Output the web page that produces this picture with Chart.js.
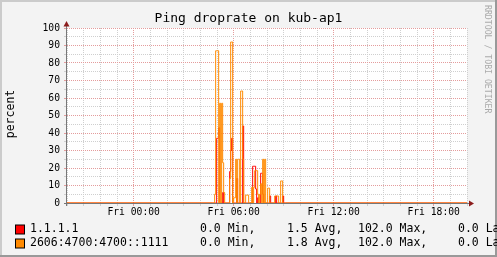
<!DOCTYPE html>
<html>
<head>
<meta charset="utf-8">
<script src="https://cdn.jsdelivr.net/npm/chart.js@4/dist/chart.umd.min.js"></script>
<style>
  html, body { margin: 0; padding: 0; background: #f3f3f3; }
  canvas { display: block; }
</style>
</head>
<body>
<canvas id="pingChart" width="497" height="257"></canvas>
<script>
// samples are one per graph column (3.6 min), starting Fri 04:44
const sampleStart = 4.74;
const sampleStep = 0.06;

const droprateV4 = [
  0, 0, 0, 0, 0, 37, 37, 43, 0, 0,
  0, 6, 0, 0, 0, 0, 0, 0, 18, 30,
  37, 0, 0, 0, 0, 14, 0, 0, 0, 0,
  0, 44, 0, 0, 0, 0, 0, 0, 0, 0,
  0, 21, 21, 21, 8, 0, 3, 0, 0, 17,
  17, 5, 0, 0, 0, 0, 0, 0, 4, 0,
  0, 0, 0, 0, 4, 0, 0, 0, 0, 0,
  0, 4, 0, 0
];

const droprateV6 = [
  0, 0, 0, 5, 87, 87, 87, 0, 57, 0,
  57, 23, 6, 0, 0, 0, 0, 0, 14, 92,
  92, 0, 3, 3, 25, 0, 25, 25, 0, 64,
  64, 25, 0, 0, 4.5, 4.5, 4.5, 0, 0, 0,
  9, 0, 9, 18.5, 18.5, 18.5, 5, 0, 5, 11,
  0, 25, 0, 25, 0, 0, 8.5, 8.5, 0, 0,
  0, 0, 0, 4, 4, 4, 4, 0, 0, 12.6,
  12.6, 0, 0, 0
];

const hourTicks = [0, 6, 12, 18];
const hourLabels = ["Fri 00:00", "Fri 06:00", "Fri 12:00", "Fri 18:00"];
const percentTicks = [0, 10, 20, 30, 40, 50, 60, 70, 80, 90, 100];

const legendRows = [
  { name: "1.1.1.1", color: "#ff0000", min: "0.0", avg: "1.5", max: "102.0", last: "0.0" },
  { name: "2606:4700:4700::1111", color: "#ff8a00", min: "0.0", avg: "1.8", max: "102.0", last: "0.0" }
];

const MONO = "'DejaVu Sans Mono', monospace";
const MAJOR = "#e49c9c";
const MINOR = "#cfcfcf";

function toPoints(values) {
  const pts = [{ x: -4, y: 0 }];
  values.forEach((v, i) => pts.push({ x: sampleStart + i * sampleStep, y: v }));
  pts.push({ x: 20, y: 0 });
  return pts;
}

const rrdFrame = {
  id: "rrdFrame",
  beforeDraw(chart) {
    const { ctx, chartArea: a, width: W, height: H } = chart;
    ctx.save();
    ctx.fillStyle = "#f3f3f3";
    ctx.fillRect(0, 0, W, H);
    ctx.fillStyle = "#cbcbcb";
    ctx.fillRect(0, 0, W, 2);
    ctx.fillRect(0, 0, 2, H);
    ctx.fillStyle = "#999999";
    ctx.fillRect(0, H - 2, W, 2);
    ctx.fillRect(W - 2, 0, 2, H);
    ctx.fillStyle = "#ffffff";
    ctx.fillRect(a.left, a.top, a.right - a.left, a.bottom - a.top);
    ctx.restore();
  },
  beforeDatasetsDraw(chart) {
    const { ctx, chartArea: a } = chart;
    ctx.save();
    ctx.strokeStyle = "#777777";
    ctx.lineWidth = 1;
    ctx.beginPath();
    ctx.moveTo(a.left - 0.5, a.bottom + 3);
    ctx.lineTo(a.left - 0.5, a.top - 3);
    ctx.moveTo(a.left - 3, a.bottom + 0.5);
    ctx.lineTo(a.right + 3, a.bottom + 0.5);
    ctx.stroke();
    // arrows
    ctx.fillStyle = "#8c1c1c";
    ctx.beginPath();
    ctx.moveTo(a.left - 3.5, a.top - 1.5);
    ctx.lineTo(a.left + 2.5, a.top - 1.5);
    ctx.lineTo(a.left - 0.5, a.top - 7);
    ctx.closePath();
    ctx.fill();
    ctx.beginPath();
    ctx.moveTo(a.right + 2, a.bottom - 2.5);
    ctx.lineTo(a.right + 2, a.bottom + 3.5);
    ctx.lineTo(a.right + 7, a.bottom + 0.5);
    ctx.closePath();
    ctx.fill();
    ctx.restore();
  },
  afterDraw(chart) {
    const { ctx, width: W } = chart;
    ctx.save();
    ctx.fillStyle = "#000000";
    ctx.textBaseline = "middle";

    ctx.font = `13px ${MONO}`;
    ctx.textAlign = "center";
    ctx.fillText("Ping droprate on kub-ap1", W / 2, 19);

    ctx.font = `11.5px ${MONO}`;
    ctx.save();
    ctx.translate(11, 114);
    ctx.rotate(-Math.PI / 2);
    ctx.fillText("percent", 0, 0);
    ctx.restore();

    ctx.save();
    ctx.fillStyle = "#aaaaaa";
    ctx.font = `8.2px ${MONO}`;
    ctx.textAlign = "left";
    ctx.translate(487.5, 5);
    ctx.rotate(Math.PI / 2);
    ctx.fillText("RRDTOOL / TOBI OETIKER", 0, 0);
    ctx.restore();

    ctx.textAlign = "left";
    legendRows.forEach((row, i) => {
      const y = 229.5 + i * 14;
      ctx.fillStyle = row.color;
      ctx.fillRect(15.5, y - 4.5, 9, 9);
      ctx.strokeStyle = "#000000";
      ctx.lineWidth = 1;
      ctx.strokeRect(15.5, y - 4.5, 9, 9);
      ctx.fillStyle = "#000000";
      ctx.fillText(row.name, 30, y);
      ctx.fillText(`${row.min} Min,`, 200, y);
      ctx.fillText(`${row.avg} Avg,`, 287, y);
      ctx.fillText(`${row.max} Max,`, 358, y);
      ctx.fillText(`${row.last} Last`, 458, y);
    });
    ctx.restore();
  }
};

const ctx = document.getElementById("pingChart");

new Chart(ctx, {
  type: "line",
  data: {
    datasets: [
      {
        label: legendRows[1].name,
        data: toPoints(droprateV6),
        borderColor: legendRows[1].color,
        order: 0
      },
      {
        label: legendRows[0].name,
        data: toPoints(droprateV4),
        borderColor: legendRows[0].color,
        order: 1
      }
    ]
  },
  options: {
    responsive: false,
    animation: false,
    events: [],
    layout: { padding: { left: 0, right: 30, top: 28, bottom: 0 } },
    elements: {
      line: { borderWidth: 1, stepped: "after", tension: 0 },
      point: { radius: 0 }
    },
    plugins: {
      legend: { display: false },
      tooltip: { enabled: false }
    },
    scales: {
      x: {
        type: "linear",
        min: -4,
        max: 20,
        afterFit: (s) => { s.height = 54; },
        ticks: {
          stepSize: 1,
          autoSkip: false,
          maxRotation: 0,
          padding: 1,
          color: "#000000",
          font: { family: MONO, size: 9.7 },
          callback: (v) => {
            const i = hourTicks.indexOf(v);
            return i >= 0 ? hourLabels[i] : "";
          }
        },
        grid: {
          color: (c) => (hourTicks.includes(c.tick.value) ? MAJOR : MINOR),
          tickColor: (c) => (hourTicks.includes(c.tick.value) ? MAJOR : MINOR),
          tickLength: 3
        },
        border: { display: false, dash: [1, 1] }
      },
      y: {
        min: 0,
        max: 100,
        afterFit: (s) => { s.width = 67; },
        ticks: {
          stepSize: 5,
          autoSkip: false,
          padding: 4,
          color: "#000000",
          font: { family: MONO, size: 9.7 },
          callback: (v) => (percentTicks.includes(v) ? String(v) : "")
        },
        grid: {
          color: (c) => (percentTicks.includes(c.tick.value) ? MAJOR : MINOR),
          tickColor: (c) => (percentTicks.includes(c.tick.value) ? MAJOR : MINOR),
          tickLength: 3
        },
        border: { display: false, dash: [1, 1] }
      }
    }
  },
  plugins: [rrdFrame]
});
</script>
</body>
</html>
